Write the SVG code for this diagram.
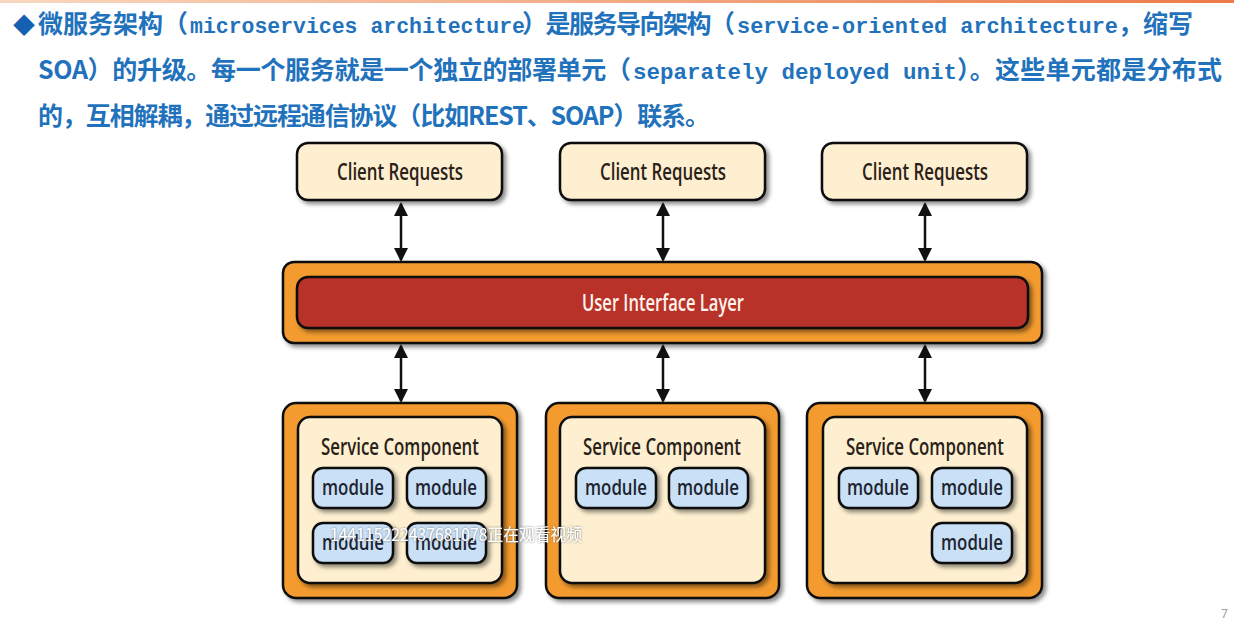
<svg xmlns="http://www.w3.org/2000/svg" width="1234" height="620" viewBox="0 0 1234 620">
  <defs>
    <linearGradient id="topbar" x1="0" y1="0" x2="1" y2="0">
      <stop offset="0" stop-color="#f8d8c0"/>
      <stop offset="1" stop-color="#ec7a48"/>
    </linearGradient>
    <filter id="shadow" x="-10%" y="-10%" width="130%" height="140%">
      <feDropShadow dx="3" dy="3" stdDeviation="2" flood-color="#000" flood-opacity="0.45"/>
    </filter>
    <filter id="glow" x="-5%" y="-30%" width="110%" height="160%">
      <feDropShadow dx="0" dy="0" stdDeviation="0.8" flood-color="#555" flood-opacity="0.8"/>
    </filter>
    <marker id="head" viewBox="0 0 10 10" refX="8.6" refY="5" markerWidth="14" markerHeight="14" markerUnits="userSpaceOnUse" orient="auto-start-reverse">
      <path d="M0,0 L10,5 L0,10 z" fill="#111"/>
    </marker>
    <style>
      .hd { font-family: "Noto Sans CJK SC", "Noto Sans", sans-serif; font-weight: 700; font-size: 25px; fill: #1f72bb; }
      .mono { font-family: "Liberation Mono", "DejaVu Sans Mono", monospace; font-weight: 700; font-size: 22px; fill: #1f72bb; }
      .lbl { font-family: "Open Sans", "Noto Sans", "Liberation Sans", sans-serif; font-weight: 600; font-size: 23px; fill: #2a2118; }
      .mod { font-family: "Open Sans", "Noto Sans", "Liberation Sans", sans-serif; font-weight: 600; font-size: 22px; fill: #1d2430; }
      .cream { fill: #fdefd0; stroke: #111; stroke-width: 2.5; }
      .orange { fill: #f39b2d; stroke: #111; stroke-width: 2.5; }
      .red { fill: #b93129; stroke: #111; stroke-width: 2.5; }
      .module { fill: #c9e0f6; stroke: #111; stroke-width: 2.5; }
      .conn { stroke: #111; stroke-width: 2.5; fill: none; }
    </style>
  </defs>

  <rect x="0" y="0" width="1234" height="620" fill="#ffffff"/>
  <rect x="0" y="0" width="1234" height="3" fill="url(#topbar)"/>

  <g id="header">
    <text x="13" y="33" class="hd" style="font-size:22px;fill:#1660b2">◆</text>
    <text x="38" y="33" class="hd" textLength="150" lengthAdjust="spacing">微服务架构（</text>
    <text x="190" y="33" class="mono" textLength="335" lengthAdjust="spacingAndGlyphs">microservices architecture</text>
    <text x="522" y="33" class="hd" textLength="213" lengthAdjust="spacing">）是服务导向架构（</text>
    <text x="737" y="33" class="mono" textLength="381" lengthAdjust="spacingAndGlyphs">service-oriented architecture</text>
    <text x="1118" y="33" class="hd">，缩写</text>

    <text x="38" y="79" class="hd" textLength="593" lengthAdjust="spacing">SOA）的升级。每一个服务就是一个独立的部署单元（</text>
    <text x="633" y="79" class="mono" textLength="324" lengthAdjust="spacingAndGlyphs">separately deployed unit</text>
    <text x="957" y="79" class="hd" textLength="265" lengthAdjust="spacing">）。这些单元都是分布式</text>

    <text x="38" y="125" class="hd" textLength="672" lengthAdjust="spacing">的，互相解耦，通过远程通信协议（比如REST、SOAP）联系。</text>
  </g>

  <g id="connectors">
    <line class="conn" x1="401" y1="204" x2="401" y2="260" marker-start="url(#head)" marker-end="url(#head)"/>
    <line class="conn" x1="663" y1="204" x2="663" y2="260" marker-start="url(#head)" marker-end="url(#head)"/>
    <line class="conn" x1="925" y1="204" x2="925" y2="260" marker-start="url(#head)" marker-end="url(#head)"/>
    <line class="conn" x1="401" y1="346" x2="401" y2="401" marker-start="url(#head)" marker-end="url(#head)"/>
    <line class="conn" x1="663" y1="346" x2="663" y2="401" marker-start="url(#head)" marker-end="url(#head)"/>
    <line class="conn" x1="925" y1="346" x2="925" y2="401" marker-start="url(#head)" marker-end="url(#head)"/>
  </g>

  <g id="client1">
    <rect x="297" y="143" width="205" height="57" rx="11" class="cream" filter="url(#shadow)"/>
    <text x="337" y="180" class="lbl" textLength="126" lengthAdjust="spacingAndGlyphs">Client Requests</text>
  </g>
  <g id="client2">
    <rect x="560" y="143" width="205" height="57" rx="11" class="cream" filter="url(#shadow)"/>
    <text x="600" y="180" class="lbl" textLength="126" lengthAdjust="spacingAndGlyphs">Client Requests</text>
  </g>
  <g id="client3">
    <rect x="822" y="143" width="205" height="57" rx="11" class="cream" filter="url(#shadow)"/>
    <text x="862" y="180" class="lbl" textLength="126" lengthAdjust="spacingAndGlyphs">Client Requests</text>
  </g>

  <g id="ui-layer">
    <rect x="283" y="262" width="759" height="81" rx="11" class="orange" filter="url(#shadow)"/>
    <rect x="297" y="277" width="731" height="51" rx="11" class="red" filter="url(#shadow)"/>
    <text x="582" y="311" class="lbl" style="fill:#fff4ec" textLength="162" lengthAdjust="spacingAndGlyphs">User Interface Layer</text>
  </g>

  <g id="service1">
    <rect x="283" y="403" width="234" height="195" rx="13" class="orange" filter="url(#shadow)"/>
    <rect x="298" y="417" width="204" height="166" rx="12" class="cream" filter="url(#shadow)"/>
    <text x="321" y="455" class="lbl" textLength="158" lengthAdjust="spacingAndGlyphs">Service Component</text>
    <g id="s1-m1"><rect x="313" y="468" width="80" height="40" rx="10" class="module" filter="url(#shadow)"/><text x="322" y="495" class="mod" textLength="62" lengthAdjust="spacingAndGlyphs">module</text></g>
    <g id="s1-m2"><rect x="407" y="468" width="79" height="40" rx="10" class="module" filter="url(#shadow)"/><text x="415" y="495" class="mod" textLength="62" lengthAdjust="spacingAndGlyphs">module</text></g>
    <g id="s1-m3"><rect x="313" y="523" width="80" height="40" rx="10" class="module" filter="url(#shadow)"/><text x="322" y="550" class="mod" textLength="62" lengthAdjust="spacingAndGlyphs">module</text></g>
    <g id="s1-m4"><rect x="407" y="523" width="79" height="40" rx="10" class="module" filter="url(#shadow)"/><text x="415" y="550" class="mod" textLength="62" lengthAdjust="spacingAndGlyphs">module</text></g>
  </g>

  <g id="service2">
    <rect x="546" y="403" width="233" height="195" rx="13" class="orange" filter="url(#shadow)"/>
    <rect x="560" y="417" width="205" height="166" rx="12" class="cream" filter="url(#shadow)"/>
    <text x="583" y="455" class="lbl" textLength="158" lengthAdjust="spacingAndGlyphs">Service Component</text>
    <g id="s2-m1"><rect x="576" y="468" width="80" height="40" rx="10" class="module" filter="url(#shadow)"/><text x="585" y="495" class="mod" textLength="62" lengthAdjust="spacingAndGlyphs">module</text></g>
    <g id="s2-m2"><rect x="669" y="468" width="79" height="40" rx="10" class="module" filter="url(#shadow)"/><text x="677" y="495" class="mod" textLength="62" lengthAdjust="spacingAndGlyphs">module</text></g>
  </g>

  <g id="service3">
    <rect x="807" y="403" width="235" height="195" rx="13" class="orange" filter="url(#shadow)"/>
    <rect x="823" y="417" width="204" height="166" rx="12" class="cream" filter="url(#shadow)"/>
    <text x="846" y="455" class="lbl" textLength="158" lengthAdjust="spacingAndGlyphs">Service Component</text>
    <g id="s3-m1"><rect x="839" y="468" width="79" height="40" rx="10" class="module" filter="url(#shadow)"/><text x="847" y="495" class="mod" textLength="62" lengthAdjust="spacingAndGlyphs">module</text></g>
    <g id="s3-m2"><rect x="932" y="468" width="80" height="40" rx="10" class="module" filter="url(#shadow)"/><text x="941" y="495" class="mod" textLength="62" lengthAdjust="spacingAndGlyphs">module</text></g>
    <g id="s3-m3"><rect x="932" y="523" width="80" height="40" rx="10" class="module" filter="url(#shadow)"/><text x="941" y="550" class="mod" textLength="62" lengthAdjust="spacingAndGlyphs">module</text></g>
  </g>

  <text x="330" y="541" font-family="'Noto Sans CJK SC', 'Noto Sans', sans-serif" font-size="17" fill="#ffffff" filter="url(#glow)" textLength="252" lengthAdjust="spacingAndGlyphs">144115222437681078正在观看视频</text>

  <text x="1221" y="618" font-family="'Noto Sans', 'Liberation Sans', sans-serif" font-size="12" fill="#a0a0a0">7</text>
</svg>
